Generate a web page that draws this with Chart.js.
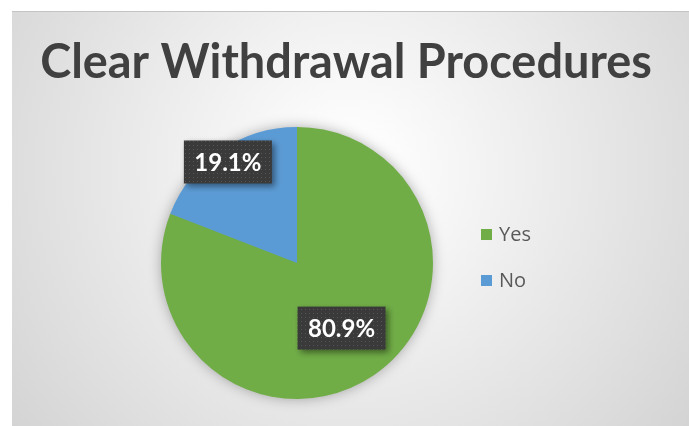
<!DOCTYPE html>
<html>
<head>
<meta charset="utf-8">
<script src="https://cdn.jsdelivr.net/npm/chart.js@4.4.0/dist/chart.umd.min.js"></script>
<style>
  html, body { margin: 0; padding: 0; background: #fff; }
  #wrap { width: 689px; height: 426px; position: relative; }
</style>
</head>
<body>
<div id="wrap"><canvas id="myChart" width="689" height="426"></canvas></div>
<script>
var chartTitle = "Clear Withdrawal Procedures";
var labels = ["Yes", "No"];
var values = [80.9, 19.1];
var colors = ["#70AD47", "#5B9BD5"];

// how far out (fraction of radius) each data label sits
var labelDist = [0.58, 0.9];

// dark dotted fill for the label boxes
var pat = document.createElement("canvas");
pat.width = 4; pat.height = 4;
var pc = pat.getContext("2d");
pc.fillStyle = "#3a3a3a";
pc.fillRect(0, 0, 4, 4);
pc.fillStyle = "#555555";
pc.fillRect(1, 1, 1, 1);

var decor = {
  id: "decor",
  beforeDraw: function(chart) {
    var ctx = chart.ctx;
    ctx.save();
    var g = ctx.createRadialGradient(350, 170, 20, 350, 170, 470);
    g.addColorStop(0, "#ffffff");
    g.addColorStop(1, "#cfcfcf");
    ctx.fillStyle = g;
    ctx.fillRect(12, 11, 677, 415);
    ctx.fillStyle = "#c4c4c4";
    ctx.fillRect(12, 11, 677, 1);

    // title
    var size = 46;
    ctx.font = "bold " + size + "px Lato";
    var w = ctx.measureText(chartTitle).width;
    size = size * 612 / w;
    ctx.font = "bold " + size + "px Lato";
    ctx.fillStyle = "#404040";
    ctx.textAlign = "center";
    ctx.textBaseline = "alphabetic";
    ctx.fillText(chartTitle, 346, 78);

    // legend
    ctx.font = "20px 'Open Sans'";
    ctx.textAlign = "left";
    ctx.textBaseline = "middle";
    for (var i = 0; i < labels.length; i++) {
      var y = 235 + i * 46;
      ctx.fillStyle = colors[i];
      ctx.fillRect(481, y - 6, 11, 11);
      ctx.fillStyle = "#595959";
      ctx.fillText(labels[i], 499, y);
    }
    ctx.restore();
  },
  beforeDatasetsDraw: function(chart) {
    var arc = chart.getDatasetMeta(0).data[0];
    if (!arc) return;
    var p = arc.getProps(["x", "y", "outerRadius"], true);
    var ctx = chart.ctx;
    ctx.save();
    ctx.shadowColor = "rgba(0,0,0,0.35)";
    ctx.shadowBlur = 14;
    ctx.beginPath();
    ctx.arc(p.x, p.y, p.outerRadius - 1, 0, Math.PI * 2);
    ctx.fillStyle = colors[0];
    ctx.fill();
    ctx.restore();
  },
  afterDatasetsDraw: function(chart) {
    var ctx = chart.ctx;
    var meta = chart.getDatasetMeta(0);
    var total = values.reduce(function(a, b) { return a + b; }, 0);
    ctx.save();
    ctx.font = "bold 24px Lato";
    ctx.textAlign = "center";
    ctx.textBaseline = "middle";
    meta.data.forEach(function(arc, i) {
      var p = arc.getProps(["x", "y", "startAngle", "endAngle", "outerRadius"], true);
      var mid = (p.startAngle + p.endAngle) / 2;
      var cx = p.x + Math.cos(mid) * p.outerRadius * labelDist[i];
      var cy = p.y + Math.sin(mid) * p.outerRadius * labelDist[i];
      var txt = (values[i] / total * 100).toFixed(1) + "%";
      var bw = 88, bh = 43;
      ctx.save();
      ctx.shadowColor = "rgba(0,0,0,0.45)";
      ctx.shadowBlur = 6;
      ctx.shadowOffsetX = 3;
      ctx.shadowOffsetY = 3;
      ctx.fillStyle = pat.getContext ? ctx.createPattern(pat, "repeat") : "#3a3a3a";
      ctx.fillRect(cx - bw / 2, cy - bh / 2, bw, bh);
      ctx.restore();
      ctx.fillStyle = "#ffffff";
      ctx.fillText(txt, cx, cy + 1);
    });
    ctx.restore();
  }
};

new Chart("myChart", {
  type: "pie",
  data: {
    labels: labels,
    datasets: [{
      data: values,
      backgroundColor: colors,
      borderWidth: 0
    }]
  },
  options: {
    responsive: false,
    animation: false,
    layout: {
      padding: { left: 161, right: 256, top: 127, bottom: 27 }
    },
    plugins: {
      legend: { display: false },
      title: { display: false },
      tooltip: { enabled: false }
    }
  },
  plugins: [decor]
});
</script>
</body>
</html>
